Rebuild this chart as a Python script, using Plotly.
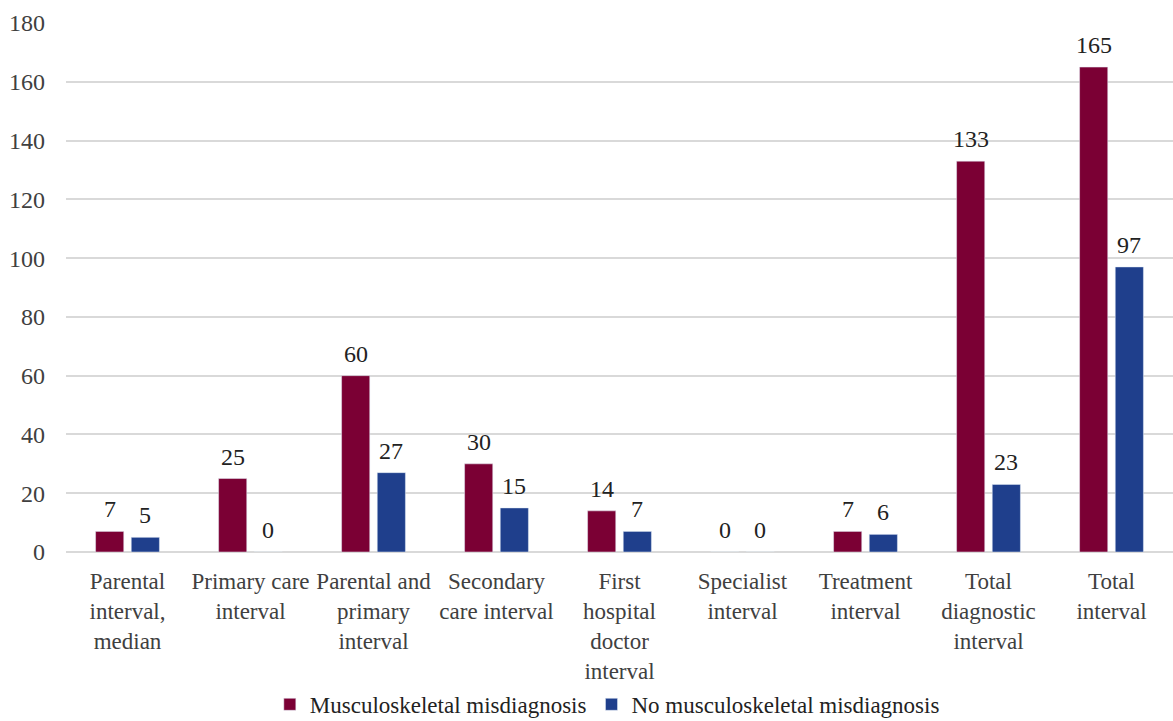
import plotly.graph_objects as go

categories = [
    "Parental<br>interval,<br>median",
    "Primary care<br>interval",
    "Parental and<br>primary<br>interval",
    "Secondary<br>care interval",
    "First<br>hospital<br>doctor<br>interval",
    "Specialist<br>interval",
    "Treatment<br>interval",
    "Total<br>diagnostic<br>interval",
    "Total<br>interval",
]
msk_misdiagnosis = [7, 25, 60, 30, 14, 0, 7, 133, 165]
no_msk_misdiagnosis = [5, 0, 27, 15, 7, 0, 6, 23, 97]
y_ticks = [0, 20, 40, 60, 80, 100, 120, 140, 160, 180]
series_names = ["Musculoskeletal misdiagnosis", "No musculoskeletal misdiagnosis"]
series_colors = ["#7B0034", "#1F3F8C"]

FONT = "Liberation Serif"
TXT = "#404040"

fig = go.Figure()
for name, vals, col in zip(series_names, [msk_misdiagnosis, no_msk_misdiagnosis], series_colors):
    fig.add_trace(go.Bar(x=categories, y=vals, name=name, marker=dict(color=col)))

# value labels placed above bars
slot_px = 35.5
for i, vals in enumerate([msk_misdiagnosis, no_msk_misdiagnosis]):
    xs = -slot_px / 2 if i == 0 else slot_px / 2
    for c, v in zip(categories, vals):
        fig.add_annotation(x=c, y=v, text=str(v), showarrow=False, xshift=xs,
                           yshift=7, yanchor="bottom",
                           font=dict(family=FONT, size=24, color="#222"))

fig.update_layout(
    width=1173, height=721,
    margin=dict(l=66, r=0, t=23, b=169, autoexpand=False),
    paper_bgcolor="white", plot_bgcolor="white",
    barmode="group", bargap=0.42, bargroupgap=0.21,
    showlegend=True,
    legend=dict(orientation="h", x=0.489, xanchor="center", xref="paper",
                yref="paper", y=-0.288, yanchor="middle",
                font=dict(family=FONT, size=23, color="#222"),
                itemwidth=30, traceorder="normal"),
)
fig.update_yaxes(range=[0, 180], tickvals=y_ticks, showgrid=True, gridcolor="#d9d9d9",
                 gridwidth=1.5, zeroline=True, zerolinecolor="#d9d9d9", zerolinewidth=1.5,
                 showline=False, ticks="", ticklabelstandoff=20, automargin=False,
                 tickfont=dict(family=FONT, size=24, color=TXT))
fig.update_xaxes(showline=False, ticks="", tickangle=0, automargin=False,
                 ticklabelstandoff=13,
                 tickfont=dict(family=FONT, size=23, color=TXT))

fig.write_html("out.html")
